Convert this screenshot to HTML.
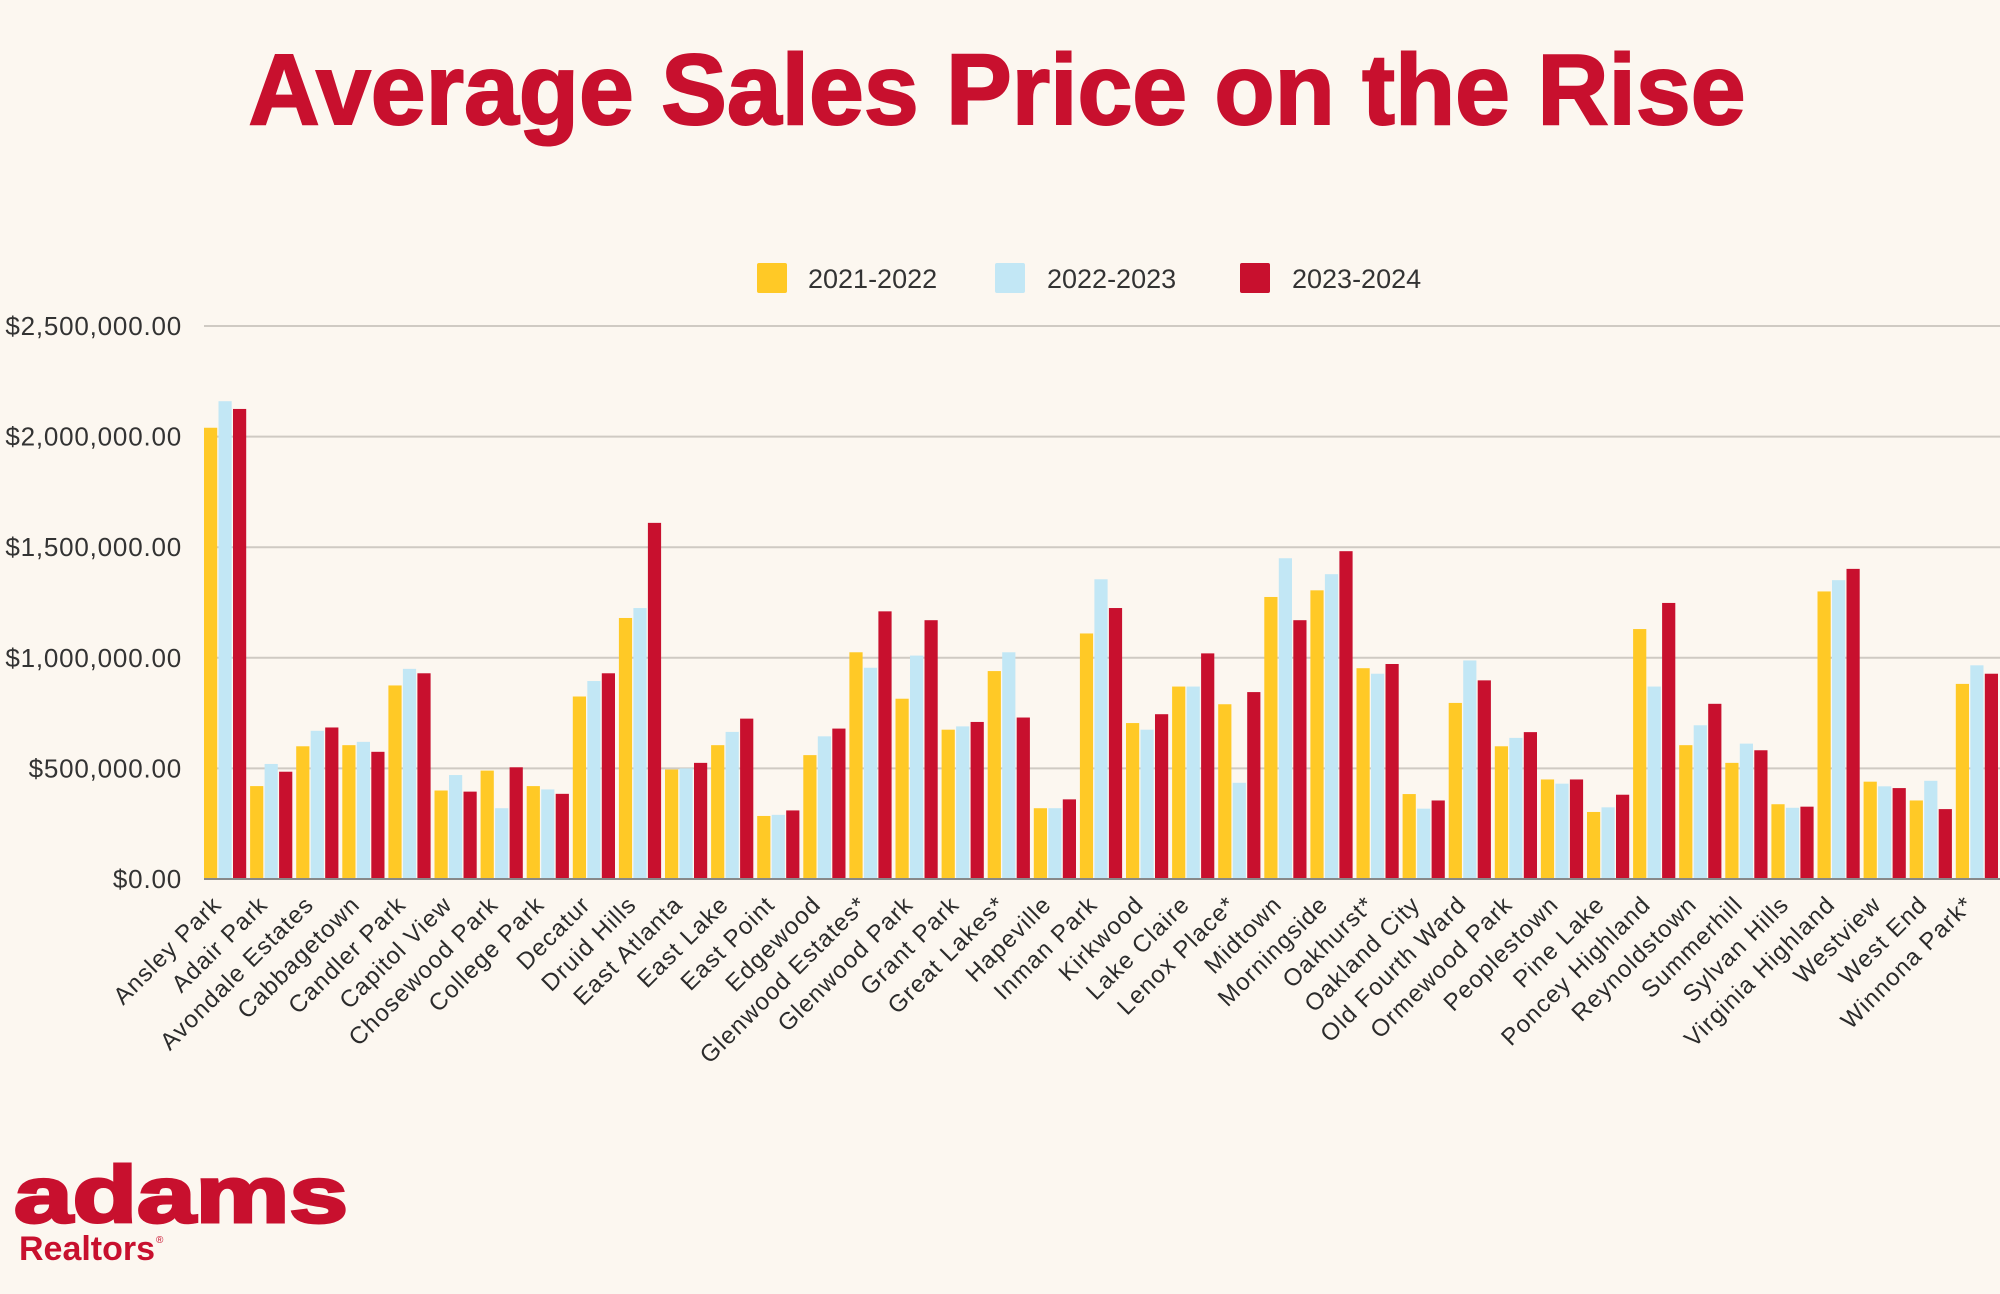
<!DOCTYPE html>
<html><head><meta charset="utf-8"><style>
html,body{margin:0;padding:0;background:#fcf7f0;}
svg{display:block;}
text{font-family:"Liberation Sans",sans-serif;}
</style></head><body>
<svg id="chart" width="2000" height="1294" viewBox="0 0 2000 1294" xmlns="http://www.w3.org/2000/svg">
<rect width="2000" height="1294" fill="#fcf7f0"/>
<text x="997" y="124" text-anchor="middle" font-size="100" font-weight="bold" fill="#c8102e" stroke="#c8102e" stroke-width="2" textLength="1497" lengthAdjust="spacingAndGlyphs">Average Sales Price on the Rise</text>
<g>
<g><rect x="757" y="263" width="30" height="30" rx="2" fill="#ffc926"/><text x="808" y="288" font-size="27" fill="#333">2021-2022</text></g>
<g><rect x="995" y="263" width="30" height="30" rx="2" fill="#c2e7f5"/><text x="1047" y="288" font-size="27" fill="#333">2022-2023</text></g>
<g><rect x="1240" y="263" width="30" height="30" rx="2" fill="#c8102e"/><text x="1292" y="288" font-size="27" fill="#333">2023-2024</text></g>
</g>
<g id="grid"></g>
<g id="yaxis"></g>
<g id="bars"></g>
<g id="xaxis"></g>
<g>
<text x="14" y="1222" font-size="80" font-weight="bold" fill="#c8102e" stroke="#c8102e" stroke-width="3" textLength="334" lengthAdjust="spacingAndGlyphs">adams</text>
<text x="19" y="1260" font-size="34" font-weight="bold" fill="#c8102e" textLength="136" lengthAdjust="spacingAndGlyphs">Realtors</text>
<text x="156" y="1243" font-size="10" fill="#c8102e">®</text>
</g>
</svg>
<script>
const categories = ["Ansley Park","Adair Park","Avondale Estates","Cabbagetown","Candler Park","Capitol View","Chosewood Park","College Park","Decatur","Druid Hills","East Atlanta","East Lake","East Point","Edgewood","Glenwood Estates*","Glenwood Park","Grant Park","Great Lakes*","Hapeville","Inman Park","Kirkwood","Lake Claire","Lenox Place*","Midtown","Morningside","Oakhurst*","Oakland City","Old Fourth Ward","Ormewood Park","Peoplestown","Pine Lake","Poncey Highland","Reynoldstown","Summerhill","Sylvan Hills","Virginia Highland","Westview","West End","Winnona Park*"];
const series2122 = [2040000,420000,600000,605000,875000,400000,490000,420000,825000,1180000,495000,605000,285000,560000,1025000,815000,675000,940000,320000,1110000,705000,870000,790000,1275000,1305000,953000,384000,796000,600000,450000,303000,1130000,605000,525000,338000,1300000,440000,355000,882000];
const series2223 = [2160000,520000,670000,620000,950000,470000,320000,405000,895000,1225000,500000,665000,290000,645000,955000,1010000,690000,1025000,320000,1355000,675000,870000,435000,1450000,1378000,928000,318000,988000,638000,431000,324000,870000,695000,612000,322000,1351000,419000,444000,966000];
const series2324 = [2125000,485000,685000,575000,930000,395000,505000,385000,930000,1610000,525000,725000,310000,680000,1210000,1170000,710000,730000,360000,1225000,745000,1020000,845000,1170000,1482000,972000,355000,898000,664000,450000,381000,1248000,792000,582000,327000,1402000,411000,316000,928000];
const yTicks = [0,500000,1000000,1500000,2000000,2500000];
const yTickLabels = ["$0.00","$500,000.00","$1,000,000.00","$1,500,000.00","$2,000,000.00","$2,500,000.00"];

const NS="http://www.w3.org/2000/svg";
const X0=204, BAND=46.1, Y0=879, YTOP=326, YMAX=2500000;
function yScale(v){return Y0-(v/YMAX)*(Y0-YTOP);}
function xBand(i){return X0+i*BAND;}
function mk(tag,attrs,parent){const e=document.createElementNS(NS,tag);for(const k in attrs)e.setAttribute(k,attrs[k]);parent.appendChild(e);return e;}
const grid=document.getElementById('grid'), yaxis=document.getElementById('yaxis'), bars=document.getElementById('bars'), xaxis=document.getElementById('xaxis');
yTicks.forEach((t,i)=>{
  const y=yScale(t);
  if(t>0){const l=mk('line',{x1:X0,x2:2000,y1:y,y2:y,stroke:'#cfcac3','stroke-width':2},grid);
  
  }
  const tx=mk('text',{x:182,y:y+9,'text-anchor':'end','font-size':26,fill:'#333','letter-spacing':'0.8'},yaxis);
  tx.textContent=yTickLabels[i];
  
  
});
const allSeries=[[series2122,'#ffc926','2021-2022'],[series2223,'#c2e7f5','2022-2023'],[series2324,'#c8102e','2023-2024']];
categories.forEach((c,i)=>{
  allSeries.forEach((s,j)=>{
    const v=s[0][i], y=yScale(v);
    const r=mk('rect',{x:xBand(i)+j*14.5,y:y,width:13.2,height:Y0-y,fill:s[1]},bars);
    
    
  });
  const cx=xBand(i)+23-4, cy=906;
  const t=mk('text',{x:cx,y:cy,'text-anchor':'end','font-size':24,fill:'#2b2b2b','letter-spacing':'1.2',transform:'rotate(-45 '+cx+' '+cy+')'},xaxis);
  t.textContent=c;
  
  
});
const ax=mk('line',{x1:X0,x2:2000,y1:Y0,y2:Y0,stroke:'#888','stroke-width':2},xaxis);


</script>
</body></html>
